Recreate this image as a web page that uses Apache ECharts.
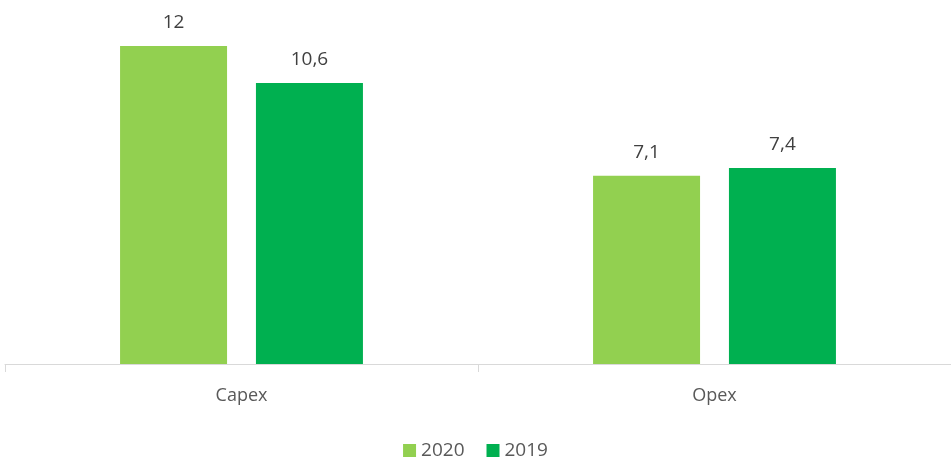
<!DOCTYPE html>
<html>
<head>
<meta charset="utf-8">
<script src="https://cdn.jsdelivr.net/npm/echarts@6/dist/echarts.min.js"></script>
<style>
html, body { margin: 0; padding: 0; background: #fff; }
#main { width: 951px; height: 461px; }
</style>
</head>
<body>
<div id="main"></div>
<script>
var categories = ['Capex', 'Opex'];
var values2020 = [12, 7.1];
var values2019 = [10.6, 7.4];
var seriesNames = ['2020', '2019'];

var chart = echarts.init(document.getElementById('main'));
var fontFam = '"Open Sans", Lato, sans-serif';

function labelFmt(p) {
    return String(p.value).replace('.', ',');
}

var option = {
    animation: false,
    color: ['#92D050', '#00B050'],
    grid: { left: 5, right: 0, top: 46, bottom: 97, containLabel: false },
    legend: {
        top: 436,
        left: 'center',
        itemWidth: 13,
        itemHeight: 13,
        itemGap: 22,
        icon: 'rect',
        textStyle: { color: '#595959', fontSize: 19, fontFamily: fontFam },
        data: seriesNames
    },
    xAxis: {
        type: 'category',
        data: categories,
        axisLine: { lineStyle: { color: '#d9d9d9', width: 1 } },
        axisTick: { show: true, length: 8, lineStyle: { color: '#d9d9d9' } },
        axisLabel: { color: '#595959', fontSize: 18, fontFamily: fontFam, margin: 23 }
    },
    yAxis: {
        type: 'value',
        min: 0,
        max: 12,
        show: false,
        splitLine: { show: false }
    },
    series: [
        {
            name: seriesNames[0],
            type: 'bar',
            data: values2020,
            barWidth: 107,
            barGap: '27%',
            label: { show: true, position: 'top', distance: 14, color: '#404040', fontSize: 19, fontFamily: fontFam, formatter: labelFmt }
        },
        {
            name: seriesNames[1],
            type: 'bar',
            data: values2019,
            barWidth: 107,
            barGap: '27%',
            label: { show: true, position: 'top', distance: 14, color: '#404040', fontSize: 19, fontFamily: fontFam, formatter: labelFmt }
        }
    ]
};
chart.setOption(option);
</script>
</body>
</html>
